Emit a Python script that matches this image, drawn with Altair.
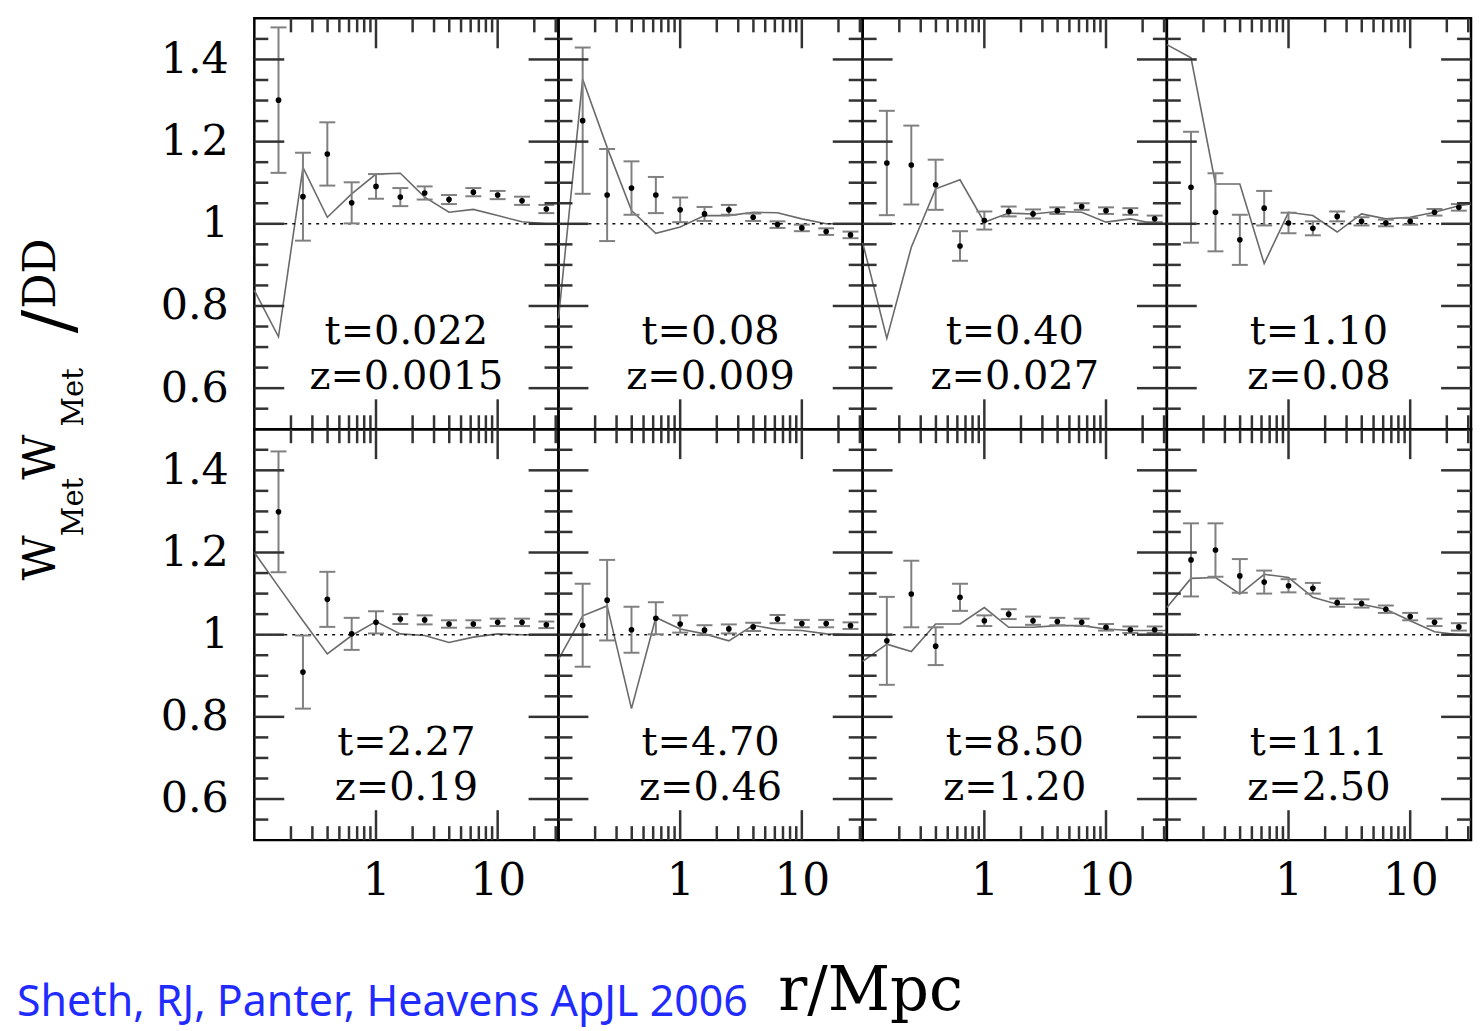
import altair as alt
import pandas as pd

SERIF = "DejaVu Serif"
INK = "#333333"
BAR_GRAY = "#808080"
LINE_GRAY = "#6a6a6a"

# radial bins (r / Mpc)
R_POINTS = [0.158, 0.251, 0.398, 0.631, 1.0, 1.585, 2.512, 3.981, 6.31, 10.0, 15.85, 25.12]
R_MODEL = [0.1, 0.158, 0.251, 0.398, 0.631, 1.0, 1.585, 2.512, 3.981, 6.31, 10.0, 15.85, 25.12, 31.62]

T_LABELS = ["t=0.022", "t=0.08", "t=0.40", "t=1.10", "t=2.27", "t=4.70", "t=8.50", "t=11.1"]
Z_LABELS = ["z=0.0015", "z=0.009", "z=0.027", "z=0.08", "z=0.19", "z=0.46", "z=1.20", "z=2.50"]

OBS_1 = [1.301, 1.066, 1.170, 1.051, 1.091, 1.065, 1.075, 1.059, 1.077, 1.070, 1.056, 1.036]
ERR_1 = [0.177, 0.107, 0.077, 0.050, 0.030, 0.022, 0.016, 0.011, 0.010, 0.010, 0.010, 0.010]
MODEL_1 = [0.838, 0.725, 1.137, 1.016, 1.073, 1.121, 1.123, 1.065, 1.028, 1.035, 1.020, 1.005, 1.000, 1.000]

OBS_2 = [1.251, 1.070, 1.087, 1.070, 1.034, 1.024, 1.034, 1.016, 0.998, 0.990, 0.981, 0.973]
ERR_2 = [0.178, 0.112, 0.065, 0.044, 0.030, 0.017, 0.012, 0.009, 0.008, 0.008, 0.008, 0.008]
MODEL_2 = [0.770, 1.352, 1.186, 1.032, 0.977, 0.992, 1.020, 1.020, 1.028, 1.027, 1.012, 1.000, 1.000, 1.000]

OBS_3 = [1.148, 1.143, 1.095, 0.946, 1.008, 1.030, 1.024, 1.032, 1.042, 1.032, 1.030, 1.012]
ERR_3 = [0.127, 0.096, 0.061, 0.036, 0.022, 0.012, 0.011, 0.008, 0.008, 0.008, 0.008, 0.008]
MODEL_3 = [0.954, 0.721, 0.943, 1.085, 1.107, 1.004, 1.026, 1.024, 1.030, 1.028, 1.004, 1.012, 1.000, 1.000]

OBS_4 = [1.089, 1.028, 0.961, 1.038, 1.002, 0.989, 1.018, 1.006, 1.002, 1.006, 1.028, 1.040]
ERR_4 = [0.135, 0.095, 0.061, 0.042, 0.025, 0.017, 0.012, 0.010, 0.008, 0.008, 0.008, 0.008]
MODEL_4 = [1.436, 1.404, 1.097, 1.097, 0.903, 1.028, 1.020, 0.980, 1.024, 1.012, 1.016, 1.028, 1.044, 1.048]

OBS_5 = [1.299, 0.909, 1.086, 1.002, 1.030, 1.038, 1.036, 1.026, 1.026, 1.030, 1.030, 1.024]
ERR_5 = [0.147, 0.089, 0.067, 0.039, 0.027, 0.012, 0.011, 0.009, 0.009, 0.009, 0.009, 0.008]
MODEL_5 = [1.200, 1.117, 1.034, 0.953, 0.998, 1.032, 1.002, 0.998, 0.981, 0.994, 1.002, 1.000, 1.000, 1.000]

OBS_6 = [1.023, 1.084, 1.012, 1.040, 1.026, 1.011, 1.014, 1.019, 1.038, 1.027, 1.027, 1.022]
ERR_6 = [0.101, 0.098, 0.056, 0.039, 0.021, 0.012, 0.011, 0.010, 0.010, 0.009, 0.009, 0.008]
MODEL_6 = [0.940, 1.046, 1.070, 0.820, 1.042, 1.014, 1.002, 0.985, 1.023, 1.012, 1.010, 1.002, 1.000, 1.000]

OBS_7 = [0.985, 1.099, 0.972, 1.091, 1.034, 1.050, 1.034, 1.032, 1.030, 1.018, 1.012, 1.012]
ERR_7 = [0.107, 0.081, 0.046, 0.033, 0.013, 0.012, 0.010, 0.009, 0.009, 0.008, 0.008, 0.008]
MODEL_7 = [0.935, 0.977, 0.959, 1.026, 1.026, 1.066, 1.018, 1.018, 1.022, 1.022, 1.014, 1.010, 1.010, 1.010]

OBS_8 = [1.182, 1.206, 1.143, 1.128, 1.119, 1.113, 1.078, 1.076, 1.062, 1.044, 1.030, 1.019]
ERR_8 = [0.089, 0.065, 0.041, 0.028, 0.016, 0.013, 0.010, 0.010, 0.009, 0.009, 0.009, 0.009]
MODEL_8 = [1.066, 1.137, 1.139, 1.099, 1.147, 1.139, 1.091, 1.074, 1.074, 1.062, 1.034, 1.007, 1.000, 0.997]

OBS = [OBS_1, OBS_2, OBS_3, OBS_4, OBS_5, OBS_6, OBS_7, OBS_8]
ERR = [ERR_1, ERR_2, ERR_3, ERR_4, ERR_5, ERR_6, ERR_7, ERR_8]
MODELS = [MODEL_1, MODEL_2, MODEL_3, MODEL_4, MODEL_5, MODEL_6, MODEL_7, MODEL_8]

# axis ticks / labels
X_LABELS = [1, 10]
X_MINOR = [0.2, 0.3, 0.4, 0.5, 0.6, 0.7, 0.8, 0.9, 2, 3, 4, 5, 6, 7, 8, 9, 20, 30]
Y_LABELS = [0.6, 0.8, 1.0, 1.2, 1.4]
Y_MINOR = [0.55, 0.65, 0.7, 0.75, 0.85, 0.9, 0.95, 1.05, 1.1, 1.15, 1.25, 1.3, 1.35, 1.45]
REFERENCE_LEVEL = 1.0

Y_TEXT_T = 0.736
Y_TEXT_Z = 0.627

W, H = 305, 412
XSCALE = alt.Scale(type="log", domain=[0.1, 31.62], nice=False)
YSCALE = alt.Scale(domain=[0.5, 1.5], nice=False, zero=False)
MAJ, MIN = 30, 14


def text_layer(label, x, y, size, font=SERIF, angle=0, align="center",
               baseline="alphabetic", color="black"):
    return alt.Chart(pd.DataFrame({"label": [label]})).mark_text(
        font=font, fontSize=size, angle=angle, align=align, baseline=baseline,
        color=color,
    ).encode(x=alt.value(x), y=alt.value(y), text="label:N")


def panel(i):
    row, col = divmod(i, 4)
    xaxis = alt.Axis(values=X_LABELS, format="~g", ticks=False, tickSize=0, domain=False,
                     grid=False, labelFont=SERIF, labelFontSize=44, labelColor="black",
                     labelPadding=20, title=None) if row == 1 else None
    yaxis = alt.Axis(values=Y_LABELS, format="~g", ticks=False, tickSize=0, domain=False,
                     grid=False, labelFont=SERIF, labelFontSize=43, labelColor="black",
                     labelPadding=26, title=None) if col == 0 else None
    X = lambda f: alt.X(f, scale=XSCALE, axis=xaxis)
    Y = lambda f: alt.Y(f, scale=YSCALE, axis=yaxis)

    pts = pd.DataFrame({
        "r": R_POINTS,
        "v": OBS[i],
        "lo": [v - e for v, e in zip(OBS[i], ERR[i])],
        "hi": [v + e for v, e in zip(OBS[i], ERR[i])],
    })
    mdl = pd.DataFrame({"r": R_MODEL, "v": MODELS[i]})
    ymaj = pd.DataFrame({"v": Y_LABELS})
    ymin = pd.DataFrame({"v": Y_MINOR})
    xmaj = pd.DataFrame({"r": X_LABELS})
    xmin = pd.DataFrame({"r": X_MINOR})

    tick = dict(color=INK, strokeWidth=2.5)
    layers = [
        alt.Chart(mdl).mark_line(color=LINE_GRAY, strokeWidth=1.6).encode(
            x=X("r:Q"), y=Y("v:Q")),
        alt.Chart(pd.DataFrame({"v": [REFERENCE_LEVEL]})).mark_rule(
            color="#111111", strokeWidth=1.4, strokeDash=[3, 5]).encode(y=Y("v:Q")),
        alt.Chart(pts).mark_rule(color=BAR_GRAY, strokeWidth=2).encode(
            x=X("r:Q"), y=Y("lo:Q"), y2="hi:Q"),
        alt.Chart(pts).mark_tick(color=BAR_GRAY, orient="horizontal", size=16,
                                 thickness=2, opacity=1).encode(x=X("r:Q"), y=Y("lo:Q")),
        alt.Chart(pts).mark_tick(color=BAR_GRAY, orient="horizontal", size=16,
                                 thickness=2, opacity=1).encode(x=X("r:Q"), y=Y("hi:Q")),
        alt.Chart(pts).mark_circle(color="black", size=32, opacity=1).encode(
            x=X("r:Q"), y=Y("v:Q")),
        # y ticks, left and right, pointing inwards
        alt.Chart(ymaj).mark_rule(**tick).encode(
            y=Y("v:Q"), x=alt.value(0), x2=alt.value(MAJ)),
        alt.Chart(ymin).mark_rule(**tick).encode(
            y=Y("v:Q"), x=alt.value(0), x2=alt.value(MIN)),
        alt.Chart(ymaj).mark_rule(**tick).encode(
            y=Y("v:Q"), x=alt.value(W - MAJ), x2=alt.value(W)),
        alt.Chart(ymin).mark_rule(**tick).encode(
            y=Y("v:Q"), x=alt.value(W - MIN), x2=alt.value(W)),
        # x ticks, top and bottom, pointing inwards
        alt.Chart(xmaj).mark_rule(**tick).encode(
            x=X("r:Q"), y=alt.value(0), y2=alt.value(MAJ)),
        alt.Chart(xmin).mark_rule(**tick).encode(
            x=X("r:Q"), y=alt.value(0), y2=alt.value(MIN)),
        alt.Chart(xmaj).mark_rule(**tick).encode(
            x=X("r:Q"), y=alt.value(H - MAJ), y2=alt.value(H)),
        alt.Chart(xmin).mark_rule(**tick).encode(
            x=X("r:Q"), y=alt.value(H - MIN), y2=alt.value(H)),
        # panel labels
        alt.Chart(pd.DataFrame({"label": [T_LABELS[i]], "v": [Y_TEXT_T]})).mark_text(
            font=SERIF, fontSize=40, color="black", baseline="middle").encode(
            x=alt.value(W / 2), y=Y("v:Q"), text="label:N"),
        alt.Chart(pd.DataFrame({"label": [Z_LABELS[i]], "v": [Y_TEXT_Z]})).mark_text(
            font=SERIF, fontSize=40, color="black", baseline="middle").encode(
            x=alt.value(W / 2), y=Y("v:Q"), text="label:N"),
    ]

    if i == 0:
        # y-axis title  W_Met W_Met / DD  (rotated)
        layers += [
            text_layer("W", -200, 541, 44, angle=270),
            text_layer("Met", -172, 490, 29, angle=270),
            text_layer("W", -200, 440, 44, angle=270),
            text_layer("Met", -172, 380, 29, angle=270),
            text_layer("/", -183, 304, 70, angle=270),
            text_layer("DD", -200, 256, 44, angle=270),
        ]
    if i == 4:
        layers += [
            text_layer("r/Mpc", 2 * W + 8, 582, 61),
            text_layer("Sheth, RJ, Panter, Heavens ApJL 2006", -238, 588, 43,
                       font="Noto Sans", align="left", color="#1f2bff"),
        ]

    return alt.layer(*layers).properties(width=W, height=H)


chart = alt.concat(*[panel(i) for i in range(8)], columns=4, spacing=0, bounds="flush")
chart = chart.properties(
    padding={"left": 6, "top": 6, "right": 0, "bottom": 0},
    background="white",
).configure_view(stroke="black", strokeWidth=2.5)

chart.save("out.html", embed_options={"renderer": "svg", "actions": False})
